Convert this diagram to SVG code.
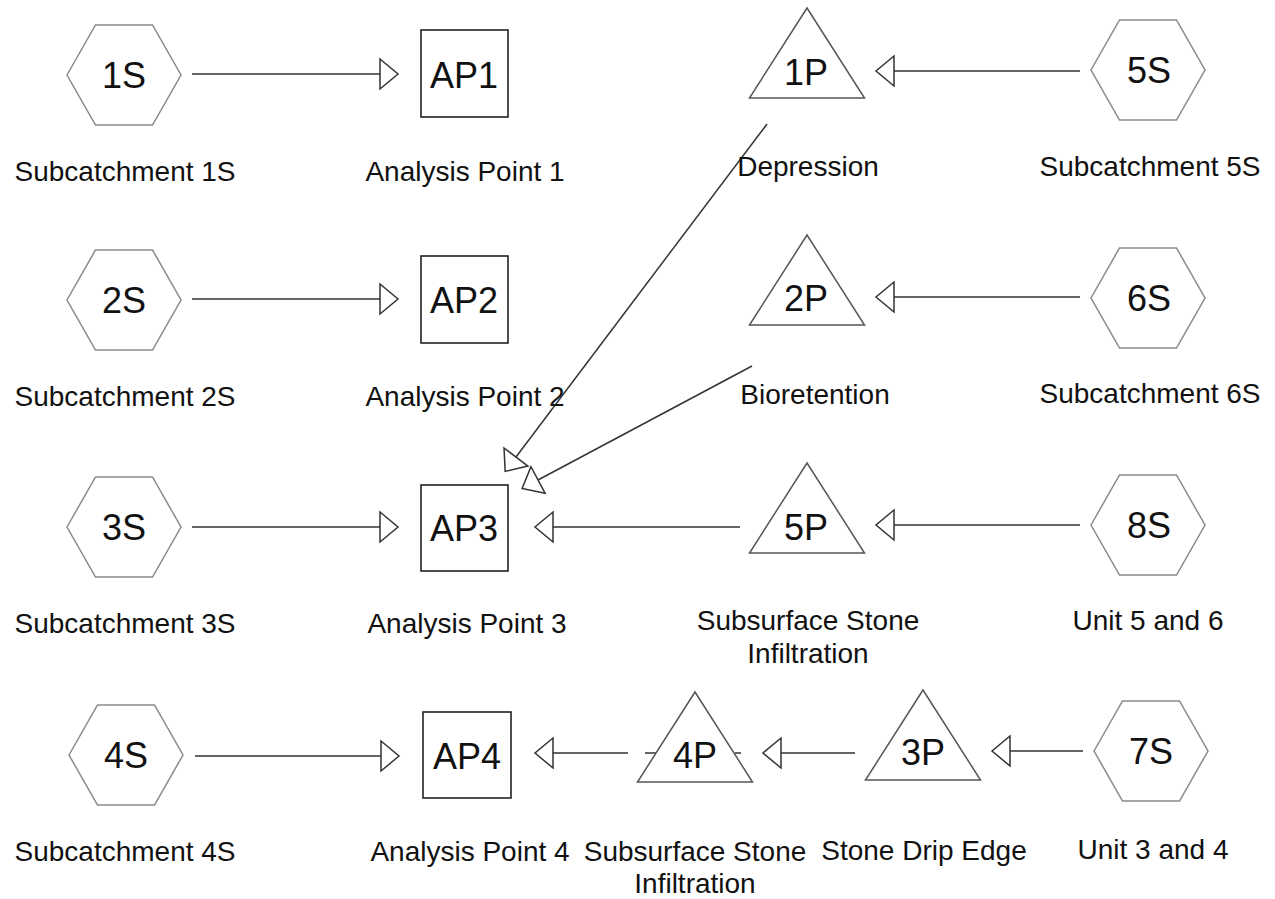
<svg xmlns="http://www.w3.org/2000/svg" xmlns:xlink="http://www.w3.org/1999/xlink" width="1275" height="899" viewBox="0 0 1275 899">
<style>
.hex{fill:#fff;stroke:#8a8a8a;stroke-width:1.5}
.tri{fill:#fff;stroke:#555;stroke-width:1.5}
.box{fill:#fff;stroke:#222;stroke-width:1.6}
.lnk{stroke:#333;stroke-width:1.5;fill:none;marker-end:url(#arr)}
.tick{stroke:#333;stroke-width:1.5;fill:none}
.id{font-family:"Liberation Sans",Arial,sans-serif;font-size:36px;fill:#111;text-anchor:middle}
.lbl{font-family:"Liberation Sans",Arial,sans-serif;font-size:28px;fill:#111;text-anchor:middle}
</style>
<defs>
<marker id="arr" markerUnits="userSpaceOnUse" viewBox="-2 -2 22 34" markerWidth="22" markerHeight="34" refX="0" refY="15" orient="auto">
<path d="M0,0 L18,15 L0,30 Z" fill="#fff" stroke="#333" stroke-width="1.5"/>
</marker>
<polygon id="hexshape" points="-57,0 -28.5,-50 28.5,-50 57,0 28.5,50 -28.5,50"/>
<polygon id="trishape" points="0,0 57.5,90 -57.5,90"/>
</defs>
<rect width="1275" height="899" fill="#fff"/>
<g id="connectors">
<line class="lnk" x1="192" y1="74" x2="380" y2="74"/>
<line class="lnk" x1="1080" y1="71" x2="894" y2="71"/>
<line class="lnk" x1="192" y1="299" x2="380" y2="299"/>
<line class="lnk" x1="1080" y1="297" x2="894" y2="297"/>
<line class="lnk" x1="192" y1="527" x2="380" y2="527"/>
<line class="lnk" x1="740" y1="527" x2="553" y2="527"/>
<line class="lnk" x1="1080" y1="525" x2="894" y2="525"/>
<line class="lnk" x1="195" y1="756" x2="381" y2="756"/>
<line class="lnk" x1="628" y1="753" x2="553" y2="753"/>
<line class="tick" x1="645" y1="753" x2="656" y2="753"/>
<line class="tick" x1="735" y1="753" x2="741" y2="753"/>
<line class="lnk" x1="855" y1="753" x2="781" y2="753"/>
<line class="lnk" x1="1083" y1="751" x2="1010" y2="751"/>
<line class="lnk" x1="767" y1="124" x2="516" y2="457"/>
<line class="lnk" x1="752" y1="366" x2="538" y2="480"/>
</g>
<g id="node-1S"><use xlink:href="#hexshape" class="hex" x="124" y="75"/><text class="id" x="124" y="88">1S</text><text class="lbl" x="125" y="181">Subcatchment 1S</text></g>
<g id="node-2S"><use xlink:href="#hexshape" class="hex" x="124" y="300"/><text class="id" x="124" y="313">2S</text><text class="lbl" x="125" y="406">Subcatchment 2S</text></g>
<g id="node-3S"><use xlink:href="#hexshape" class="hex" x="124" y="527"/><text class="id" x="124" y="540">3S</text><text class="lbl" x="125" y="633">Subcatchment 3S</text></g>
<g id="node-4S"><use xlink:href="#hexshape" class="hex" x="126" y="755"/><text class="id" x="126" y="768">4S</text><text class="lbl" x="125" y="861">Subcatchment 4S</text></g>
<g id="node-5S"><use xlink:href="#hexshape" class="hex" x="1148" y="70"/><text class="id" x="1149" y="83">5S</text><text class="lbl" x="1150" y="176">Subcatchment 5S</text></g>
<g id="node-6S"><use xlink:href="#hexshape" class="hex" x="1148" y="298"/><text class="id" x="1149" y="311">6S</text><text class="lbl" x="1150" y="403">Subcatchment 6S</text></g>
<g id="node-8S"><use xlink:href="#hexshape" class="hex" x="1148" y="525"/><text class="id" x="1149" y="538">8S</text><text class="lbl" x="1148" y="630">Unit 5 and 6</text></g>
<g id="node-7S"><use xlink:href="#hexshape" class="hex" x="1151" y="751"/><text class="id" x="1151" y="764">7S</text><text class="lbl" x="1153" y="859">Unit 3 and 4</text></g>
<g id="node-AP1"><rect class="box" x="421" y="30" width="87" height="87"/><text class="id" x="464" y="88">AP1</text><text class="lbl" x="465" y="181">Analysis Point 1</text></g>
<g id="node-AP2"><rect class="box" x="421" y="256" width="87" height="87"/><text class="id" x="464" y="313">AP2</text><text class="lbl" x="465" y="406">Analysis Point 2</text></g>
<g id="node-AP3"><rect class="box" x="421" y="485" width="87" height="86"/><text class="id" x="464" y="541">AP3</text><text class="lbl" x="467" y="633">Analysis Point 3</text></g>
<g id="node-AP4"><rect class="box" x="423" y="712" width="88" height="86"/><text class="id" x="467" y="769">AP4</text><text class="lbl" x="470" y="861">Analysis Point 4</text></g>
<g id="node-1P"><use xlink:href="#trishape" class="tri" x="807" y="8"/><text class="id" x="806" y="85">1P</text><text class="lbl" x="808" y="176">Depression</text></g>
<g id="node-2P"><use xlink:href="#trishape" class="tri" x="807" y="235"/><text class="id" x="806" y="311">2P</text><text class="lbl" x="815" y="404">Bioretention</text></g>
<g id="node-5P"><use xlink:href="#trishape" class="tri" x="807" y="463"/><text class="id" x="806" y="540">5P</text><text class="lbl" x="808" y="630">Subsurface Stone</text><text class="lbl" x="808" y="663">Infiltration</text></g>
<g id="node-4P"><use xlink:href="#trishape" class="tri" x="695" y="692"/><text class="id" x="695" y="768">4P</text><text class="lbl" x="695" y="861">Subsurface Stone</text><text class="lbl" x="695" y="893">Infiltration</text></g>
<g id="node-3P"><use xlink:href="#trishape" class="tri" x="923" y="690"/><text class="id" x="923" y="765">3P</text><text class="lbl" x="924" y="860">Stone Drip Edge</text></g>
</svg>
